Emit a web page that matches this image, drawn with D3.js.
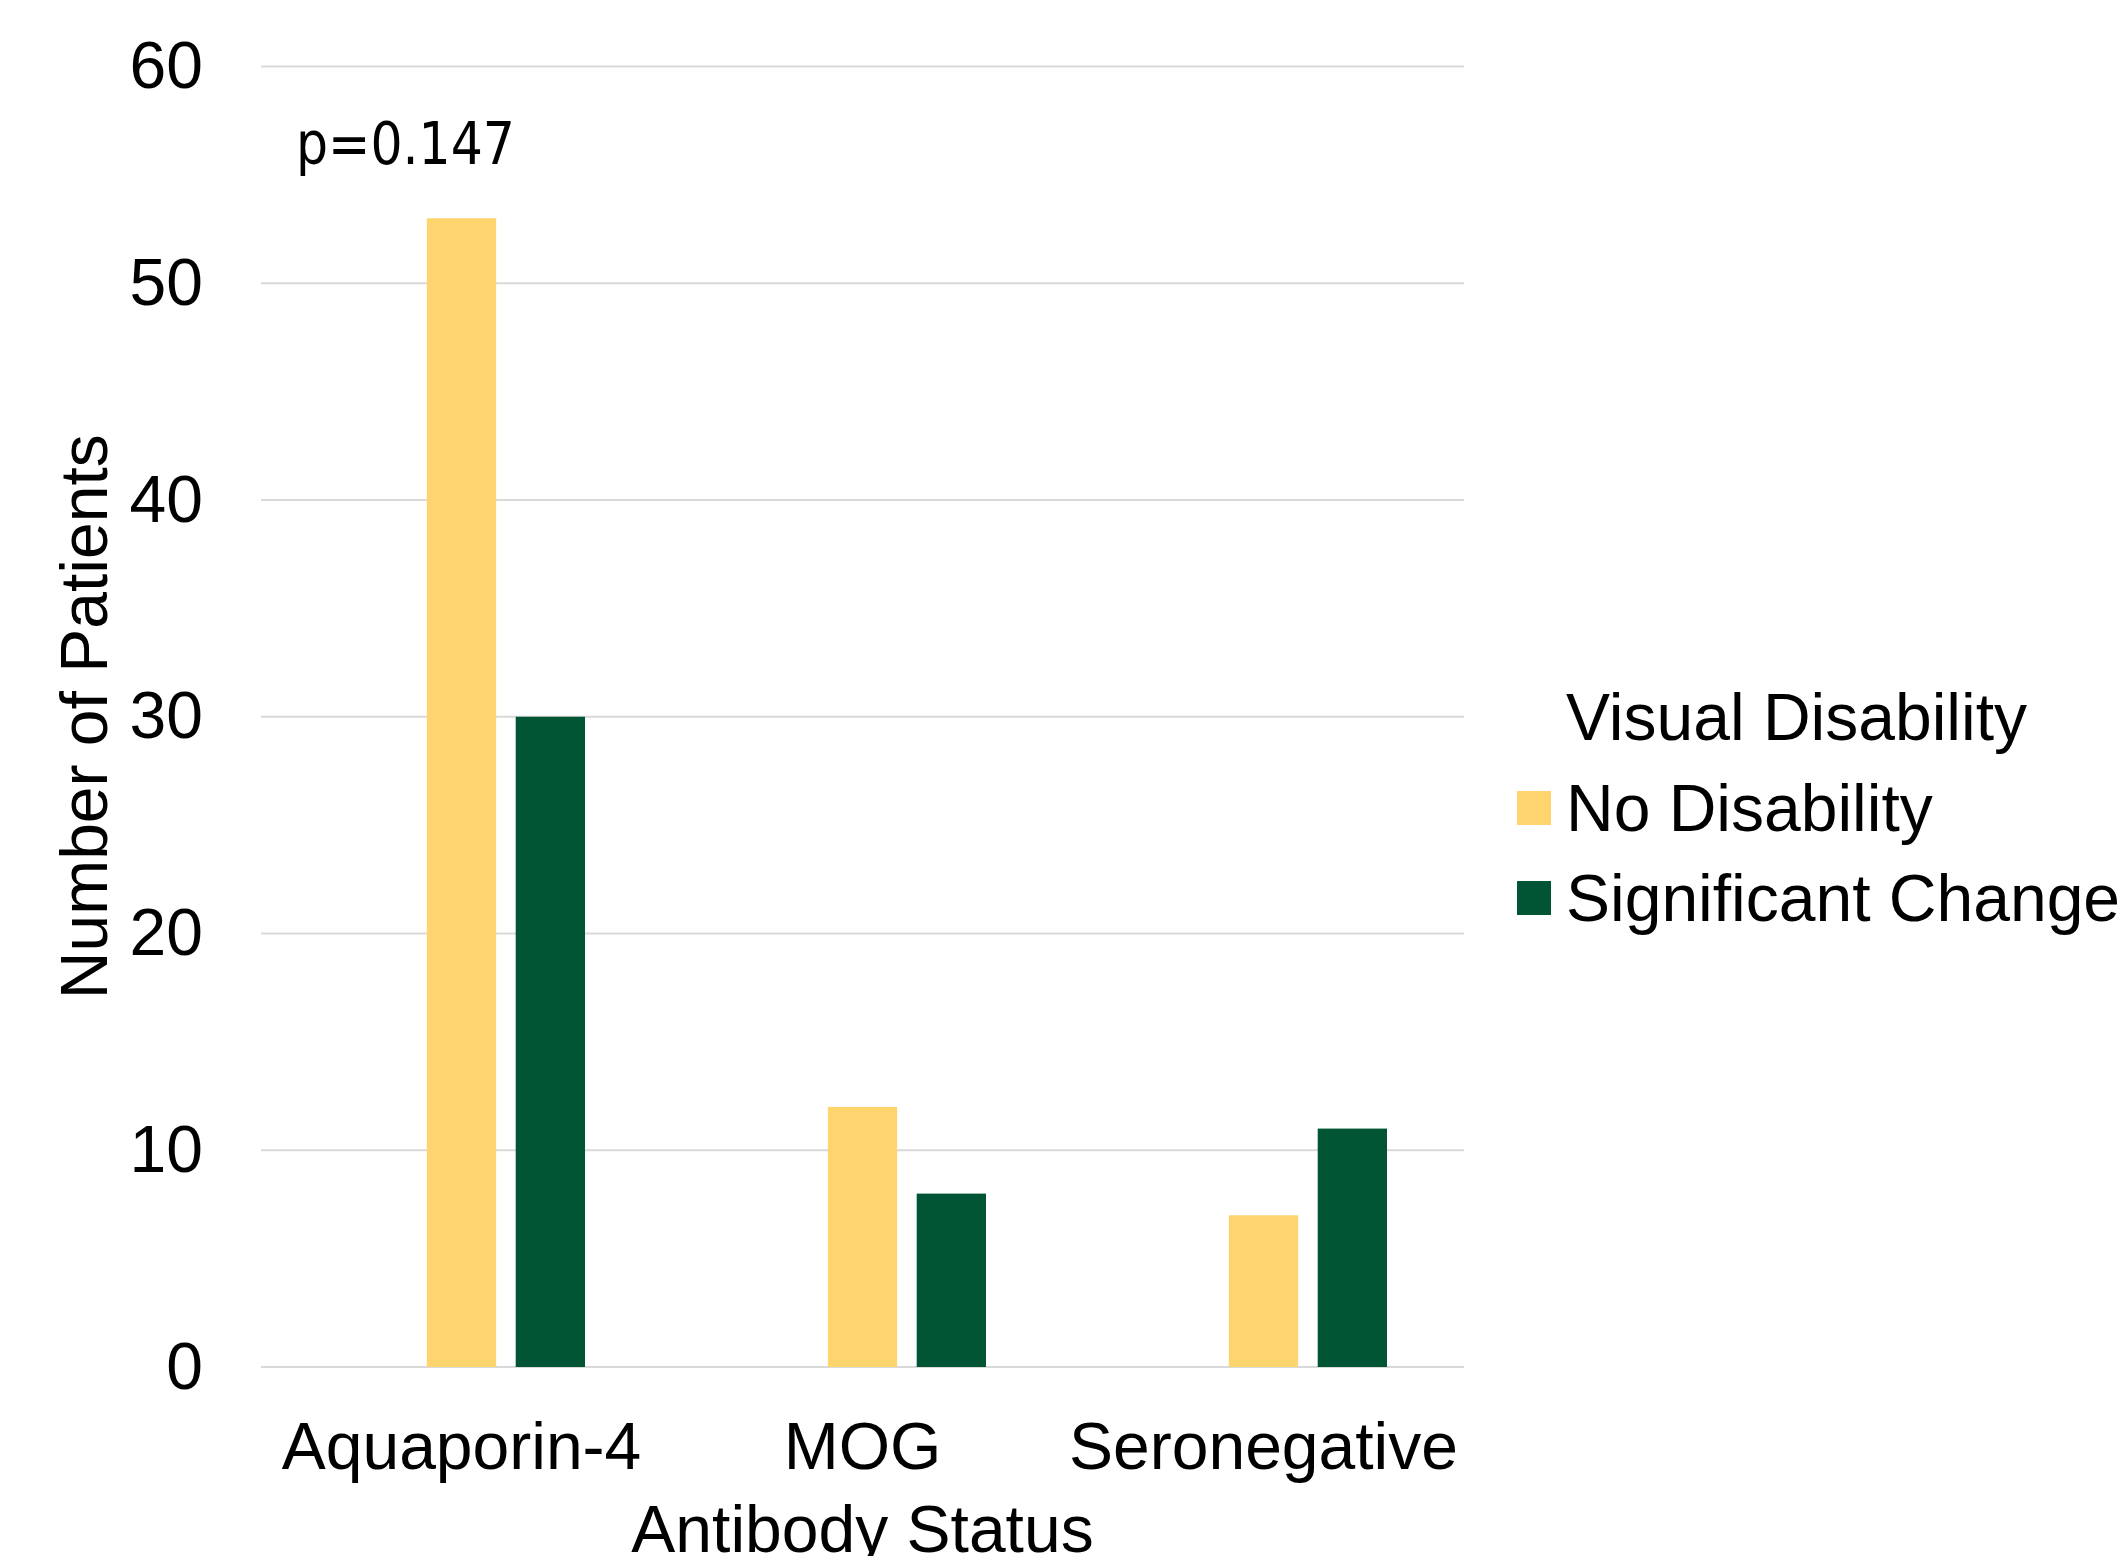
<!DOCTYPE html>
<html>
<head>
<meta charset="utf-8">
<script src="https://cdn.jsdelivr.net/npm/d3@7"></script>
<style>
  html, body { margin: 0; padding: 0; background: #ffffff; }
  svg { display: block; }
</style>
</head>
<body>
<script>
// Patients per antibody status, split by visual disability outcome
const categories = ["Aquaporin-4", "MOG", "Seronegative"];
const seriesNames = ["No Disability", "Significant Change"];
const noDisability = [53, 12, 7];
const significantChange = [30, 8, 11];
const yTicks = [0, 10, 20, 30, 40, 50, 60];
const seriesColors = ["#FDD46E", "#015535"];
const annotationText = "p=0.147";
const xTitle = "Antibody Status";
const yTitle = "Number of Patients";
const legendTitle = "Visual Disability";

const W = 2122, H = 1556;
const plot = { left: 261, right: 1464, top: 66.5, bottom: 1367 };
const FONT = "'Liberation Sans', Arial, sans-serif";

const svg = d3.select("body").append("svg")
  .attr("width", W).attr("height", H);

const x0 = d3.scaleBand().domain(categories)
  .range([plot.left, plot.right]).padding(0);

// Each category holds three bar slots; the two series sit in the last two.
const slots = ["slot0", ...seriesNames];
const x1 = d3.scaleBand().domain(slots)
  .range([77, 324]).paddingInner(0.22).paddingOuter(0);

const y = d3.scaleLinear().domain([0, 60]).range([plot.bottom, plot.top]);

// Horizontal gridlines
svg.append("g").selectAll("line").data(yTicks).join("line")
  .attr("x1", plot.left).attr("x2", plot.right)
  .attr("y1", d => y(d)).attr("y2", d => y(d))
  .attr("stroke", "#D9D9D9").attr("stroke-width", 2.2);

// Y axis tick labels
const yAxis = d3.axisLeft(y).tickValues(yTicks).tickSize(0).tickPadding(0);
const gy = svg.append("g").attr("transform", `translate(203,0)`).call(yAxis);
gy.select(".domain").remove();
gy.selectAll("text")
  .attr("font-family", FONT).attr("font-size", 66).attr("fill", "#000")
  .attr("dy", "0.32em");

// Bars
const rows = categories.map((c, i) => ({
  category: c,
  values: [
    { key: seriesNames[0], value: noDisability[i], color: seriesColors[0] },
    { key: seriesNames[1], value: significantChange[i], color: seriesColors[1] }
  ]
}));

svg.append("g").selectAll("g").data(rows).join("g")
  .attr("transform", d => `translate(${x0(d.category)},0)`)
  .selectAll("rect").data(d => d.values).join("rect")
  .attr("x", d => x1(d.key))
  .attr("width", x1.bandwidth())
  .attr("y", d => y(d.value))
  .attr("height", d => y(0) - y(d.value))
  .attr("fill", d => d.color);

// X axis category labels
const xAxis = d3.axisBottom(x0).tickSize(0).tickPadding(0);
const gx = svg.append("g").attr("transform", `translate(0,1469)`).call(xAxis);
gx.select(".domain").remove();
gx.selectAll("text")
  .attr("font-family", FONT).attr("font-size", 66).attr("fill", "#000")
  .attr("dy", 0).attr("y", 0);

// Axis titles
svg.append("text")
  .attr("x", (plot.left + plot.right) / 2).attr("y", 1552)
  .attr("text-anchor", "middle")
  .attr("font-family", FONT).attr("font-size", 66).attr("fill", "#000")
  .text(xTitle);

svg.append("text")
  .attr("transform", `translate(107,${(plot.top + plot.bottom) / 2}) rotate(-90)`)
  .attr("text-anchor", "middle")
  .attr("font-family", FONT).attr("font-size", 66).attr("fill", "#000")
  .text(yTitle);

// Significance annotation above the Aquaporin-4 group
svg.append("text")
  .attr("x", x0(categories[0]) + 35)
  .attr("y", y(60) + 97.5)
  .attr("font-family", "'DejaVu Sans', Verdana, sans-serif")
  .attr("font-size", 58).attr("fill", "#000")
  .attr("textLength", 219).attr("lengthAdjust", "spacingAndGlyphs")
  .text(annotationText);

// Legend
const legend = svg.append("g").attr("transform", "translate(1517,0)");
legend.append("text")
  .attr("x", 49).attr("y", 740)
  .attr("font-family", FONT).attr("font-size", 66).attr("fill", "#000")
  .text(legendTitle);

const items = legend.selectAll("g.item").data(seriesNames).join("g")
  .attr("class", "item")
  .attr("transform", (d, i) => `translate(0,${808 + i * 90})`);
items.append("rect")
  .attr("x", 0).attr("y", -17).attr("width", 34).attr("height", 34)
  .attr("fill", (d, i) => seriesColors[i]);
items.append("text")
  .attr("x", 49).attr("y", 23)
  .attr("font-family", FONT).attr("font-size", 66).attr("fill", "#000")
  .text(d => d);
</script>
</body>
</html>
